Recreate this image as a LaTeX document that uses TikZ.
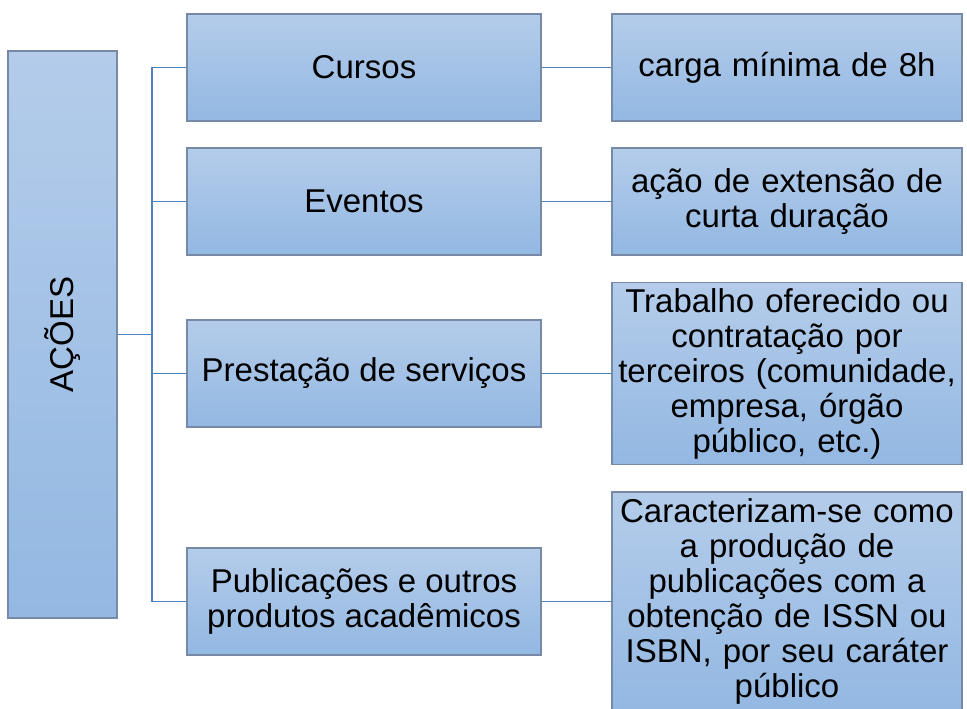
\documentclass[tikz,border=0pt]{standalone}
\usepackage{fontspec}
\setmainfont{Liberation Sans}
\usepackage{tikz}
\definecolor{boxtop}{RGB}{180,204,234}
\definecolor{boxbot}{RGB}{147,184,226}
\definecolor{boxline}{RGB}{118,138,168}
\definecolor{linkblue}{RGB}{79,129,189}
\tikzstyle{acao} = [rectangle, minimum width=354pt, minimum height=107pt, inner sep=0pt, text centered, align=center, draw=boxline, line width=1.2pt, top color=boxtop, bottom color=boxbot]
\tikzstyle{descr} = [rectangle, text width=350pt, inner sep=0pt, align=center, draw=boxline, line width=1.2pt, top color=boxtop, bottom color=boxbot]
\tikzstyle{link} = [line width=1.8pt, draw=linkblue]

\begin{document}
\begin{tikzpicture}[x=1pt, y=-1pt, font=\fontsize{33}{35}\selectfont]
\useasboundingbox (0,0) rectangle (967,709);

% Nodes
\node (acoes) [rectangle, rotate=90, minimum width=567pt, minimum height=109pt, inner sep=0pt, draw=boxline, line width=1.2pt, top color=boxtop, bottom color=boxbot] at (62.5,334.5) {AÇÕES};

\node (cursos) [acao] at (364,67.5) {Cursos};
\node (eventos) [acao, below of=cursos, node distance=134pt] {Eventos};
\node (prestacao) [acao, below of=eventos, node distance=172pt] {Prestação de serviços};
\node (public) [acao, below of=prestacao, node distance=228pt] {Publicações e outros\\produtos acadêmicos};

\node (carga) [descr, right of=cursos, node distance=423pt, minimum height=107pt] {carga mínima de 8h};
\node (curta) [descr, right of=eventos, node distance=423pt, minimum height=107pt] {ação de extensão de\\curta duração};
\node (trabalho) [descr, right of=prestacao, node distance=423pt, minimum height=182pt] {Trabalho oferecido ou\\contratação por\\terceiros (comunidade,\\empresa, órgão\\público, etc.)};
\node (caract) [descr, right of=public, node distance=423pt, minimum height=219pt] {Caracterizam-se como\\a produção de\\publicações com a\\obtenção de ISSN ou\\ISBN, por seu caráter\\público};

% Connectors
\coordinate (tronco) at (152,334.5);
\draw [link] (acoes) -- (tronco);
\draw [link] (tronco) |- (cursos.west);
\draw [link] (tronco) |- (eventos.west);
\draw [link] (tronco) |- (prestacao.west);
\draw [link] (tronco) |- (public.west);
\draw [link] (cursos) -- (carga);
\draw [link] (eventos) -- (curta);
\draw [link] (prestacao) -- (trabalho);
\draw [link] (public) -- (caract);

\end{tikzpicture}
\end{document}
